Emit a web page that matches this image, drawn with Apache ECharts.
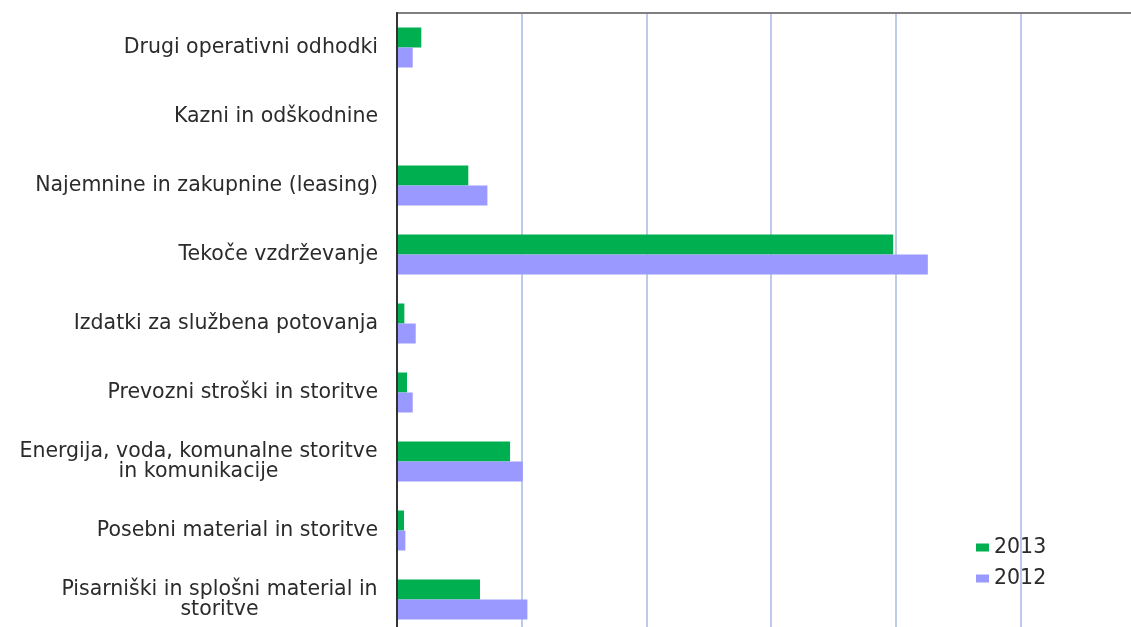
<!DOCTYPE html>
<html>
<head>
<meta charset="utf-8">
<style>
  html, body { margin: 0; padding: 0; background: #fff; overflow: hidden; }
  #chart { width: 1145px; height: 634px; }
</style>
<script src="https://cdn.jsdelivr.net/npm/echarts@6/dist/echarts.min.js"></script>
</head>
<body>
<div id="chart"></div>
<script>
var categories = [
    'Drugi operativni odhodki',
    'Kazni in odškodnine',
    'Najemnine in zakupnine (leasing)',
    'Tekoče vzdrževanje',
    'Izdatki za službena potovanja',
    'Prevozni stroški in storitve',
    'Energija, voda, komunalne storitve\nin komunikacije',
    'Posebni material in storitve',
    'Pisarniški in splošni material in\nstoritve'
];
var years = ['2013', '2012'];
var values2013 = [19.5, 0, 57.2, 398, 5.9, 8, 90.7, 5.6, 66.6];
var values2012 = [12.6, 0, 72.5, 425.8, 15, 12.6, 100.9, 6.7, 104.6];

var labelFont = '20.5px "DejaVu Sans"';

// multi-line labels: center the lines inside the width of the longest line
var ctx = document.createElement('canvas').getContext('2d');
ctx.font = labelFont;
var rich = {};
categories.forEach(function (c, i) {
    var lines = c.split('\n');
    if (lines.length > 1) {
        var w = 0;
        lines.forEach(function (l) { w = Math.max(w, ctx.measureText(l).width); });
        rich['m' + i] = { width: Math.ceil(w), align: 'center', fontSize: 20.5, fontFamily: 'DejaVu Sans', color: '#2b2b2b', lineHeight: 20 };
    }
});

var chart = echarts.init(document.getElementById('chart'));
var option = {
    backgroundColor: '#fff',
    animation: false,
    grid: { left: 397, top: 13, right: 0, bottom: 0 },
    legend: {
        orient: 'vertical',
        left: 976,
        top: 537,
        padding: 0,
        itemWidth: 13,
        itemHeight: 8,
        itemGap: 10,
        icon: 'rect',
        data: years,
        textStyle: { fontSize: 20.5, fontFamily: 'DejaVu Sans', color: '#2b2b2b' }
    },
    xAxis: {
        type: 'value',
        position: 'top',
        min: 0,
        max: 600,
        interval: 100,
        axisLine: { show: true, lineStyle: { color: '#808080', width: 2 } },
        axisTick: { show: false },
        axisLabel: { show: false },
        splitLine: { show: true, lineStyle: { color: '#bccbea', width: 2 } }
    },
    yAxis: {
        type: 'category',
        inverse: true,
        data: categories,
        z: 10,
        axisLine: { show: true, lineStyle: { color: '#333', width: 2 } },
        axisTick: { show: false },
        axisLabel: {
            margin: 19,
            fontSize: 20.5,
            fontFamily: 'DejaVu Sans',
            color: '#2b2b2b',
            lineHeight: 20,
            rich: rich,
            formatter: function (v, i) {
                if (v.indexOf('\n') < 0) return v;
                return v.split('\n').map(function (l) { return '{m' + i + '|' + l + '}'; }).join('\n');
            }
        }
    },
    series: [
        {
            name: years[0],
            type: 'bar',
            data: values2013,
            barWidth: 20,
            barGap: '0%',
            itemStyle: { color: '#00b050' }
        },
        {
            name: years[1],
            type: 'bar',
            data: values2012,
            barWidth: 20,
            barGap: '0%',
            itemStyle: { color: '#9999ff' }
        }
    ]
};
chart.setOption(option);
</script>
</body>
</html>
